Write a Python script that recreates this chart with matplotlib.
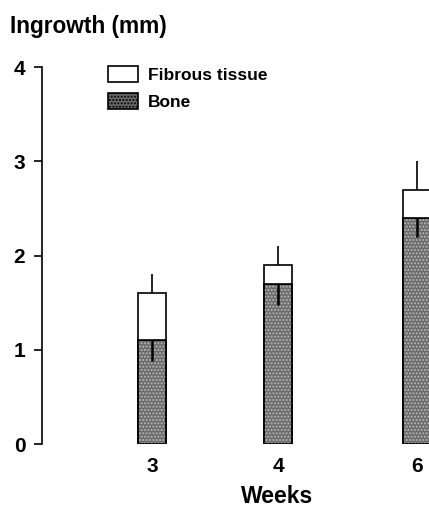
import matplotlib
matplotlib.use("Agg")
import matplotlib.pyplot as plt
from matplotlib.patches import Patch

weeks = ["3", "4", "6"]
bone = [1.1, 1.7, 2.4]
fibrous = [0.5, 0.2, 0.3]
bone_err = [0.22, 0.23, 0.2]
total_err = [0.2, 0.2, 0.3]

plt.rcParams['font.family'] = ['Liberation Sans', 'DejaVu Sans']

fig = plt.figure(figsize=(4.29, 5.09), dpi=100)
ax = fig.add_axes([42/429, 65/509, (429-42)/429, 377/509])

pos = [0, 1, 2.1]
w = 0.22
stip = '#6a6a6a'

ax.bar(pos, bone, width=w, color=stip, edgecolor='black', linewidth=1.2, zorder=2)
ax.bar(pos, bone, width=w, fill=False, edgecolor='#b8b8b8', hatch='.....', linewidth=0, zorder=2.5)
ax.bar(pos, bone, width=w, fill=False, edgecolor='black', linewidth=1.2, zorder=3)
ax.bar(pos, fibrous, width=w, bottom=bone, color='white', edgecolor='black', linewidth=1.2, zorder=3)

tops = [b + f for b, f in zip(bone, fibrous)]
ax.errorbar(pos, tops, yerr=[[0]*3, total_err], fmt='none', ecolor='black', elinewidth=1.2, capsize=0, zorder=1)
ax.errorbar(pos, bone, yerr=[bone_err, [0]*3], fmt='none', ecolor='black', elinewidth=1.8, capsize=0, zorder=4)

ax.set_ylim(0, 4)
ax.set_xlim(-0.873, 2.198)
ax.set_yticks([0, 1, 2, 3, 4])
ax.set_xticks(pos)
ax.set_xticklabels(weeks)
for s in ['top', 'right', 'bottom']:
    ax.spines[s].set_visible(False)
ax.spines['left'].set_linewidth(1.2)
ax.tick_params(axis='y', direction='out', length=6, width=1.2, labelsize=15, pad=6)
ax.tick_params(axis='x', length=0, labelsize=15, pad=9)
for lab in ax.get_xticklabels() + ax.get_yticklabels():
    lab.set_fontweight('bold')

fig.text(277/429, 1/509, 'Weeks', ha='center', va='bottom', fontsize=16.5, fontweight='bold')
fig.text(10/429, 1 - 33/509, 'Ingrowth (mm)', ha='left', va='baseline', fontsize=16.3, fontweight='bold')

handles = [Patch(facecolor='white', edgecolor='black', linewidth=1.2, label='Fibrous tissue'),
           Patch(facecolor=stip, edgecolor='black', linewidth=1.2, hatch='.....', label='Bone')]
leg = fig.legend(handles=handles, loc='upper left', bbox_to_anchor=(108/429, 1 - 66/509),
                 frameon=False, fontsize=12.5, handlelength=1.72, handleheight=1.0,
                 handletextpad=0.57, labelspacing=0.62, borderaxespad=0, borderpad=0)
for t in leg.get_texts():
    t.set_fontweight('bold')

fig.savefig('out.png', dpi=100)
